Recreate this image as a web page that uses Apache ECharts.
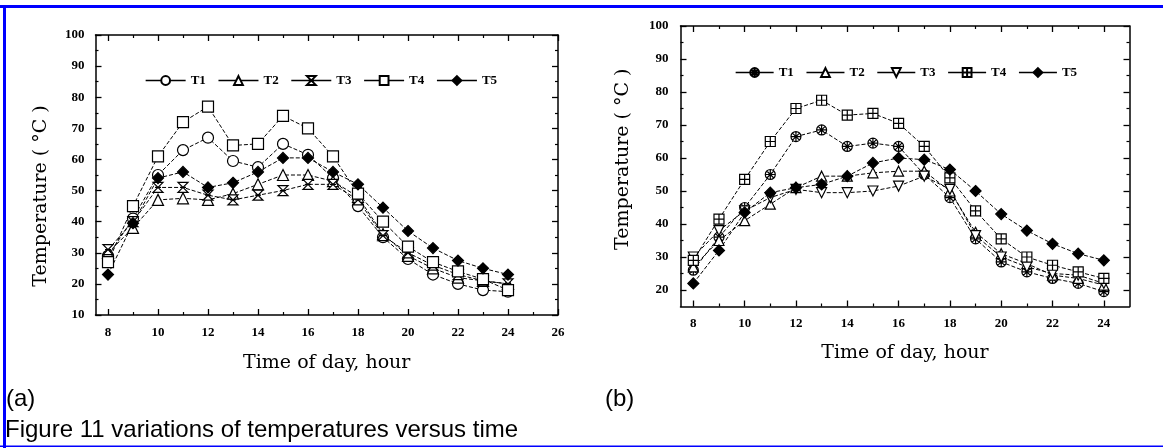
<!DOCTYPE html>
<html><head><meta charset="utf-8">
<script src="https://cdn.jsdelivr.net/npm/echarts@6/dist/echarts.min.js"></script>
<style>html,body{margin:0;padding:0;background:#fff}#c{width:1163px;height:448px}</style>
</head><body><div id="c"></div>
<script>
// ---------- data ----------
const hours = [8,9,10,11,12,13,14,15,16,17,18,19,20,21,22,23,24];
const names = ['T1','T2','T3','T4','T5'];
// panel (a)
const aT1 = [29,41,55,63,67,59.5,57.5,65,61.5,54,45,35,28,23,20,18,17.5];
const aT2 = [30,38,47,47.5,47,49,52,55,55,53,48,36,29,25,22,21,20];
const aT3 = [31,40,51,51,48.5,47,48.5,50,52,52,47,35.5,30,26,23,21,20];
const aT4 = [27,45,61,72,77,64.5,65,74,70,61,49,40,32,27,24,21.5,18];
const aT5 = [23,39.5,54,56,51,52.5,56,60.5,60.5,56,52,44.5,37,31.5,27.5,25,23];
// panel (b)
const bT1 = [26,36,45,55,66.5,68.5,63.5,64.5,63.5,55,48,35.5,28.5,25.5,23.5,22,19.5];
const bT2 = [27,35,41,46,51,54.5,54.5,55.5,56,56,50,37.5,31,28,24.5,23.5,21.5];
const bT3 = [30,38,44,48,50.5,49.5,49.5,50,51.5,54.5,50.5,36.5,30,27,25,24.5,22];
const bT4 = [29,41.5,53.5,65,75,77.5,73,73.5,70.5,63.5,54,44,35.5,30,27.5,25.5,23.5];
const bT5 = [22,32,43.5,49.5,51,52,54.5,58.5,60,59.5,56.5,50,43,38,34,31,29];
// ticks
const aXMajor = [8,10,12,14,16,18,20,22,24,26];
const aXMinor = [9,11,13,15,17,19,21,23,25];
const aYMajor = [10,20,30,40,50,60,70,80,90,100];
const aYMinor = [15,25,35,45,55,65,75,85,95];
const bXMajor = [8,10,12,14,16,18,20,22,24];
const bXMinor = [9,11,13,15,17,19,21,23];
const bYMajor = [20,30,40,50,60,70,80,90,100];
const bYMinor = [25,35,45,55,65,75,85,95];
const xTitle = 'Time of day, hour';
const yTitle = 'Temperature ( °C )';

// ---------- styles ----------
const tickFont = {fontFamily:'"Liberation Serif", serif', fontWeight:'bold', fontSize:13, color:'#000'};
const titleFont = {fontFamily:'"DejaVu Serif", serif', fontSize:19, color:'#000'};
const lineCol = '#000';

const aSym = ['circle','triangle','path://M0,0 L10,0 L0,10 L10,10 Z M2,5 L8,5','rect','diamond'];
const bSym = [
  'path://M5,0 A5,5 0 1,1 4.99,0 Z M1.5,1.5 L8.5,8.5 M8.5,1.5 L1.5,8.5 M5,0 L5,10 M0,5 L10,5',
  'triangle',
  'path://M0,0 L10,0 L5,9 Z',
  'path://M0,0 L10,0 L10,10 L0,10 Z M5,0 L5,10 M0,5 L10,5',
  'diamond'];

function xAx(grid, pos, min, max, major, opts) {
  return Object.assign({
    type:'value', gridIndex:grid, position:pos, min:min, max:max,
    splitLine:{show:false},
    axisLine:{show:true, onZero:false, lineStyle:{color:'#000', width:1.5}},
    axisTick:{show:true, inside:true, length:6, customValues:major, lineStyle:{color:'#000', width:1.3}},
    axisLabel:{show:false}
  }, opts||{});
}
const yAx = xAx;

function minorAx(grid, pos, min, max, vals) {
  return {
    type:'value', gridIndex:grid, position:pos, min:min, max:max,
    splitLine:{show:false},
    axisLine:{show:false},
    axisTick:{show:true, inside:true, length:3, customValues:vals, lineStyle:{color:'#000', width:1.2}},
    axisLabel:{show:false}
  };
}

const aGrid = {left:95.5, top:35, width:462.5, height:280};
const bGrid = {left:680.5, top:26, width:449, height:280.5};

const xAxis = [
  xAx(0,'bottom',7.5,26,aXMajor,{
    axisLabel:Object.assign({show:true, customValues:aXMajor, margin:11}, tickFont),
    name:xTitle, nameLocation:'middle', nameGap:39, nameTextStyle:titleFont}),
  xAx(0,'top',7.5,26,aXMajor),
  minorAx(1,'bottom',7.5,26,aXMinor),
  minorAx(1,'top',7.5,26,aXMinor),
  xAx(2,'bottom',7.5,25,bXMajor,{
    axisLabel:Object.assign({show:true, customValues:bXMajor, margin:11}, tickFont),
    name:xTitle, nameLocation:'middle', nameGap:37, nameTextStyle:titleFont}),
  xAx(2,'top',7.5,25,bXMajor),
  minorAx(3,'bottom',7.5,25,bXMinor),
  minorAx(3,'top',7.5,25,bXMinor)
];
const yAxis = [
  yAx(0,'left',10,100,aYMajor,{
    axisLabel:Object.assign({show:true, customValues:aYMajor, margin:11}, tickFont),
    name:yTitle, nameLocation:'middle', nameGap:45,
    nameTextStyle:Object.assign({padding:[0,42,0,0]}, titleFont)}),
  yAx(0,'right',10,100,aYMajor),
  minorAx(1,'left',10,100,aYMinor),
  minorAx(1,'right',10,100,aYMinor),
  yAx(2,'left',15,100,bYMajor,{
    axisLabel:Object.assign({show:true, customValues:bYMajor, margin:12}, tickFont),
    name:yTitle, nameLocation:'middle', nameGap:48,
    nameTextStyle:Object.assign({padding:[0,0,0,14]}, titleFont)}),
  yAx(2,'right',15,100,bYMajor),
  minorAx(3,'left',15,100,bYMinor),
  minorAx(3,'right',15,100,bYMinor)
];

function mk(name, vals, sym, size, xi, filled) {
  return {
    type:'line', name:name, xAxisIndex:xi, yAxisIndex:xi,
    data: hours.map((h,i)=>[h, vals[i]]),
    symbol:sym, symbolSize:size, showAllSymbol:true,
    lineStyle:{color:lineCol, width:1, type:[4,2]},
    itemStyle:{color: filled ? '#000' : '#fff', borderColor:'#000', borderWidth:1.2},
    emphasis:{disabled:true}, z: 3
  };
}
const aVals = [aT1,aT2,aT3,aT4,aT5];
const bVals = [bT1,bT2,bT3,bT4,bT5];
const series = [];
names.forEach((n,i)=>series.push(mk(n, aVals[i], aSym[i], i===2?10:11, 0, i===4)));
names.forEach((n,i)=>series.push(mk(n+'b', bVals[i], bSym[i], i===4?11:10, 4, i===4)));

const legendBase = {
  orient:'horizontal', itemHeight:11, itemWidth:40, itemGap:12, padding:0,
  textStyle:Object.assign({}, tickFont),
  lineStyle:{type:'solid', width:1.3, color:'#000'},
  formatter: n => n.replace('b','')
};

const capFont = '24px "Liberation Sans", Arial, sans-serif';
const option = {
  animation:false,
  backgroundColor:'#fff',
  grid:[aGrid, aGrid, bGrid, bGrid],
  xAxis:xAxis, yAxis:yAxis,
  legend:[
    Object.assign({}, legendBase, {left:145, top:74, data:names}),
    Object.assign({}, legendBase, {left:735, top:66, itemWidth:38, itemGap:12, data:names.map(n=>n+'b')})
  ],
  series:series,
  graphic:[
    {type:'rect', shape:{x:0, y:5, width:1163, height:3}, style:{fill:'#0000ff'}, silent:true},
    {type:'rect', shape:{x:3, y:5, width:3, height:443}, style:{fill:'#0000ff'}, silent:true},
    {type:'rect', shape:{x:0, y:445.5, width:1163, height:1.5}, style:{fill:'#0000ff'}, silent:true},
    {type:'text', x:6, y:411, style:{text:'(a)', font:capFont, fill:'#000', verticalAlign:'bottom'}},
    {type:'text', x:605, y:411, style:{text:'(b)', font:capFont, fill:'#000', verticalAlign:'bottom'}},
    {type:'text', x:5, y:442, style:{text:'Figure 11 variations of temperatures versus time', font:capFont, fill:'#000', verticalAlign:'bottom'}}
  ]
};
const chart = echarts.init(document.getElementById('c'), null, {renderer:'canvas'});
chart.setOption(option);
</script></body></html>
